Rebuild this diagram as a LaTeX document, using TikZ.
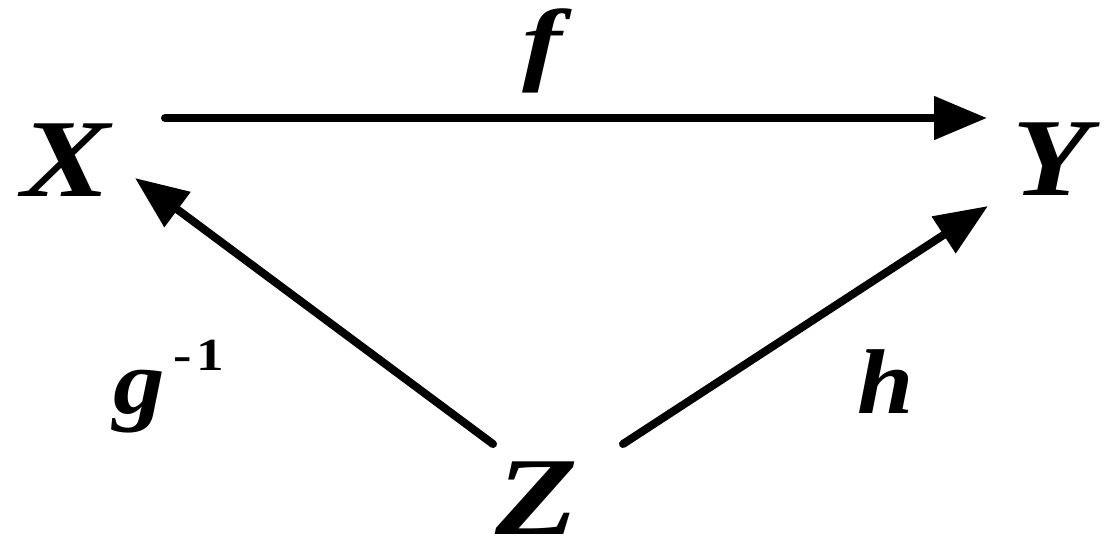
\documentclass[tikz,border=0pt]{standalone}
\usepackage{fontspec}
\setmainfont{Liberation Serif}
\usetikzlibrary{arrows.meta}
\tikzset{
  lbl/.style={inner sep=0pt, anchor=base, font=\fontsize{111}{120}\selectfont\bfseries\itshape},
  slbl/.style={inner sep=0pt, anchor=base, font=\fontsize{92}{100}\selectfont\bfseries\itshape},
  sup/.style={inner sep=0pt, anchor=base west, font=\fontsize{46}{50}\selectfont\bfseries},
  arr/.style={line width=8pt, line cap=round, -{Triangle[length=53pt,width=42pt]}}
}
\begin{document}
\begin{tikzpicture}[x=1pt,y=-1pt]
\useasboundingbox (0,0) rectangle (1107,558);
\node[lbl] (X) at (66,196) {\scalebox{1.2}[1]{X}};
\node[lbl] (Y) at (1051,195) {\scalebox{1.15}[1]{Y}};
\node[lbl] (Z) at (537,534) {\scalebox{1.22}[1]{Z}};
\node[slbl] (f) at (542,73) {\scalebox{1.3}[1]{f}};
\node[slbl] (g) at (139,413) {\scalebox{1.12}[1]{g}};
\node[sup] (gi) at (g.base east) [yshift=43pt, xshift=8pt] {\scalebox{1.2}[1]{-\kern4pt1}};
\node[slbl] (h) at (886,413) {\scalebox{1.1}[1]{h}};
\coordinate (fs) at (165,118);
\coordinate (fe) at (987,118);
\coordinate (gs) at (493,444);
\coordinate (ge) at (135,178);
\coordinate (hs) at (623,444);
\coordinate (he) at (988,206);
\draw[arr] (fs) -- (fe);
\draw[arr] (gs) -- (ge);
\draw[arr] (hs) -- (he);
\end{tikzpicture}
\end{document}
